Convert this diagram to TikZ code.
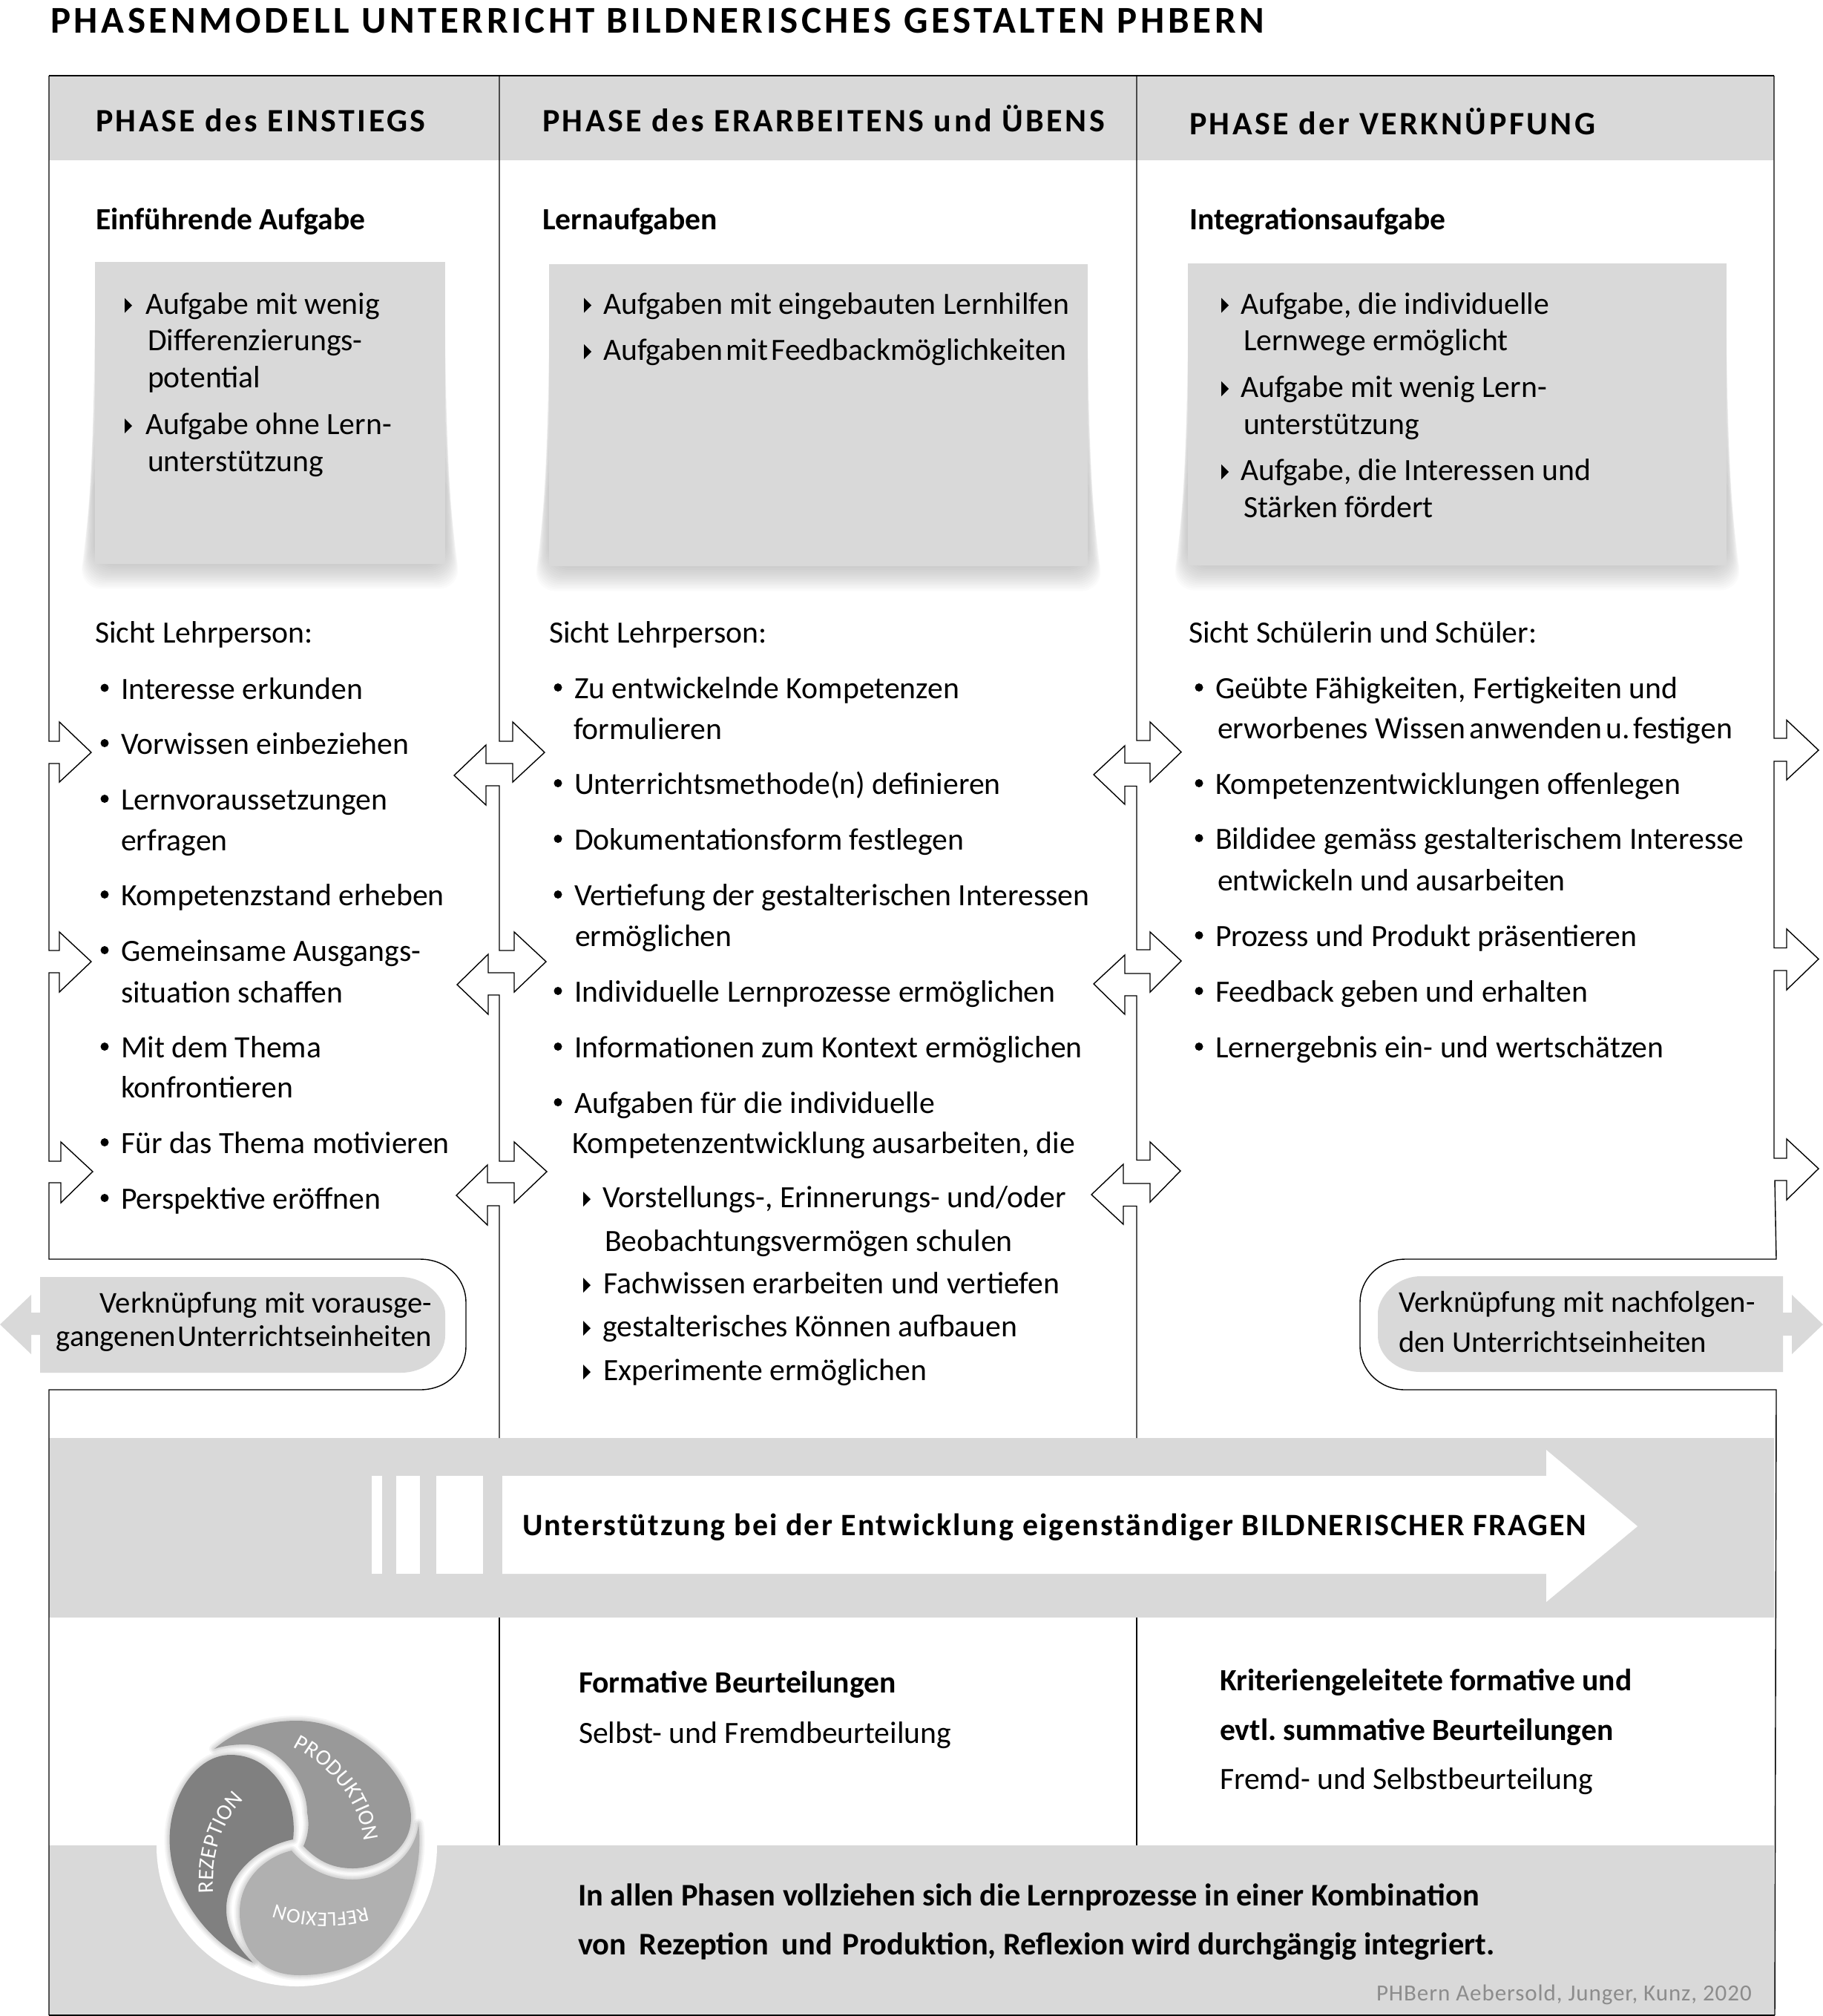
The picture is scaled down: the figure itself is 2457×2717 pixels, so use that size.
\documentclass[tikz,border=0pt]{standalone}
\usepackage{fontspec}
\setmainfont{Carlito}
\newfontfamily\spc{Carlito}[LetterSpace=7.9]
\newfontfamily\spct{Carlito}[LetterSpace=9.1]
\newfontfamily\spcb{Carlito}[LetterSpace=5]
\newfontfamily\spcc{Carlito}[LetterSpace=3]
\usetikzlibrary{decorations.text}
\definecolor{band}{HTML}{D9D9D9}
\definecolor{seg1}{HTML}{808080}
\definecolor{seg2}{HTML}{999999}
\definecolor{seg3}{HTML}{B0B0B0}
\definecolor{credit}{HTML}{8C8C8C}
\newcounter{tl}
\tikzset{
  every node/.style={inner sep=0pt,outer sep=0pt},
  txt/.style={anchor=base west,font=\fontsize{41.7}{50}\selectfont},
  lnk/.style={anchor=base west,font=\fontsize{40.7}{50}\selectfont},
  head/.style={anchor=base west,font=\spc\bfseries\fontsize{44}{50}\selectfont},
  bld/.style={anchor=base west,font=\bfseries\fontsize{41.6}{50}\selectfont},
  bldb/.style={anchor=base west,font=\bfseries\fontsize{42.4}{50}\selectfont},
  rule/.style={draw=black,line width=1.8pt,line join=miter},
  thinrule/.style={draw=black,line width=1.4pt,line join=miter},
}
\newcommand\T[4][txt]{\stepcounter{tl}\node[#1] (t\arabic{tl}) at (#2,#3+.9) {#4};}
\newcommand\B[3]{\fill (#1,#2-14.5) circle (5.5);\T{#1+22}{#2}{#3}}
\newcommand\Tri[2]{\fill (#1,#2-21) -- (#1+10,#2-11) -- (#1,#2-1) -- cycle;}
\newcommand\Card[4]{%
  \foreach \i in {1,...,14}{\fill[black,opacity=.016,rounded corners=30pt]
    ({#1-1.5*\i},{#4+2.4*\i}) -- ({#3+1.5*\i},{#4+2.4*\i}) -- (#3,{#2+40+17*\i}) -- (#1,{#2+40+17*\i}) -- cycle;}
  \fill[band] (#1,#2) rectangle (#3,#4);}
\newcommand\Glow[1]{\foreach \w in {14,10,7,4}{\draw[black,opacity=.04,line width=\w pt,line join=round] #1;}}
\begin{document}
\frenchspacing
\begin{tikzpicture}[x=1pt,y=-1pt]
\useasboundingbox (0,0) rectangle (2457,2717);
% grey areas
\fill[band] (66,102) rectangle (2391,216);
\fill[band] (66,1938) rectangle (2391,2180);
\fill[band] (66,2487) rectangle (2391,2716);
\Card{127.5}{353}{600}{760}
\Card{740}{356}{1466}{763}
\Card{1601}{355}{2327}{762}
% outer left
\draw[rule] (66,102) -- (2391,102);
\draw[rule] (66,2716) -- (2392,2716);
\draw[thinrule] (66,102) -- (66,999) -- (80,999) -- (80,973) -- (123,1014) -- (80,1054) -- (80,1029) -- (66,1029) -- (66,1281) -- (80,1281) -- (80,1256) -- (123,1296) -- (80,1337) -- (80,1311) -- (66,1311) -- (66,1565) -- (82,1565) -- (82,1539) -- (125,1579) -- (82,1621) -- (82,1594) -- (66,1594) -- (66,1697) -- (566,1697) .. controls (604,1697) and (628,1725) .. (628,1755) -- (628,1815) .. controls (628,1845) and (604,1873) .. (566,1873) -- (66,1873) -- (66,2716);
% column line 1
\draw[thinrule] (673,102) -- (673,999) -- (691,999) -- (691,973) -- (734,1014) -- (691,1054) -- (691,1029) -- (655,1029) -- (655,1004) -- (612,1045) -- (655,1085) -- (655,1059) -- (673,1059)
 -- (673,1281) -- (693,1281) -- (693,1256) -- (736,1296) -- (693,1337) -- (693,1311) -- (658,1311) -- (658,1286) -- (616,1327) -- (658,1367) -- (658,1341) -- (673,1341)
 -- (673,1565) -- (693,1565) -- (693,1539) -- (737,1579) -- (693,1621) -- (693,1594) -- (657,1594) -- (657,1570) -- (615,1611) -- (657,1651) -- (657,1625) -- (673,1625) -- (673,1938);
\draw[thinrule] (673,2180) -- (673,2487);
% column line 2
\draw[thinrule] (1532,102) -- (1532,998) -- (1550,998) -- (1550,973) -- (1592,1013.5) -- (1550,1054) -- (1550,1028.5) -- (1516,1028.5) -- (1516,1005) -- (1474,1044) -- (1516,1084) -- (1516,1059.5) -- (1532,1059.5)
 -- (1532,1280) -- (1550,1280) -- (1550,1256) -- (1592,1295) -- (1550,1337) -- (1550,1312) -- (1516,1312) -- (1516,1287) -- (1474,1326) -- (1516,1367) -- (1516,1342) -- (1532,1342)
 -- (1532,1563.5) -- (1550,1563.5) -- (1550,1539) -- (1591,1578) -- (1550,1620) -- (1550,1595) -- (1514,1595) -- (1514,1569) -- (1471,1610) -- (1514,1650) -- (1514,1625.5) -- (1532,1625.5) -- (1532,1938);
\draw[thinrule] (1532,2180) -- (1532,2487);
% right outer
\draw[thinrule] (2391,102) -- (2391,995) -- (2408,995) -- (2408,970.5) -- (2451,1011) -- (2408,1051) -- (2408,1026) -- (2391,1026) -- (2391,1277.5) -- (2408,1277.5) -- (2408,1252) -- (2451,1292.5) -- (2408,1334) -- (2408,1308) -- (2391,1308) -- (2391,1561) -- (2408,1561) -- (2408,1535) -- (2451,1575) -- (2408,1617) -- (2408,1591) -- (2392,1591) -- (2394,1697) -- (1894,1697) .. controls (1858,1697) and (1833,1725) .. (1833,1755) -- (1833,1815) .. controls (1833,1845) and (1858,1873) .. (1894,1873) -- (2394,1873) -- (2392,2716);
% link tabs
\fill[band] (54,1721) -- (540,1721) .. controls (575,1721) and (600,1750) .. (600,1770) -- (600,1800) .. controls (600,1825) and (575,1850) .. (540,1850) -- (54,1850) -- cycle;
\fill[band] (54,1769) -- (42,1769) -- (42,1745) -- (0,1785) -- (42,1825) -- (42,1799) -- (54,1799) -- cycle;
\fill[band] (2403,1720) -- (1915,1720) .. controls (1880,1720) and (1857,1750) .. (1857,1770) -- (1857,1800) .. controls (1857,1825) and (1880,1849) .. (1915,1849) -- (2403,1849) -- cycle;
\fill[band] (2403,1769) -- (2415,1769) -- (2415,1745) -- (2457,1785) -- (2415,1825) -- (2415,1800) -- (2403,1800) -- cycle;
% big arrow
\fill[white] (501,1989) rectangle (515,2120.5);
\fill[white] (534,1989) rectangle (566,2120.5);
\fill[white] (588,1989) rectangle (651,2120.5);
\fill[white] (677,1989) -- (2084,1989) -- (2084,1954) -- (2207,2057) -- (2084,2159) -- (2084,2121) -- (677,2121) -- cycle;
% title
\T[anchor=base west,font=\spct\bfseries\fontsize{51}{55}\selectfont]{68}{43.8}{PHASENMODELL UNTERRICHT BILDNERISCHES GESTALTEN PHBERN}
\T[head]{129}{176.8}{PHASE des EINSTIEGS}
\T[head]{731}{176.8}{PHASE des ERARBEITENS und ÜBENS}
\T[head]{1603}{180.3}{PHASE der VERKNÜPFUNG}
\T[bld]{129}{308.5}{Einführende Aufgabe}
\T[bld]{731}{308.5}{Lernaufgaben}
\T[bld]{1603}{308.5}{Integrationsaufgabe}
% card 1
\Tri{168}{422.5}\T{196}{422.5}{Aufgabe mit wenig}
\T{199}{472}{Differenzierungs-}
\T{199}{522}{potential}
\Tri{168}{585}\T{196}{585}{Aufgabe ohne Lern-}
\T{199}{635}{unterstützung}
% card 2
\Tri{787}{422.5}\T{813}{422.5}{Aufgaben mit eingebauten Lernhilfen}
\Tri{787}{485}\T{813}{485}{Aufgaben\hspace{-5pt} mit\hspace{-5pt} Feedbackmöglichkeiten}
% card 3
\Tri{1646}{422.5}\T{1672}{422.5}{Aufgabe, die individuelle}
\T{1676}{472}{Lernwege ermöglicht}
\Tri{1646}{535}\T{1672}{535}{Aufgabe mit wenig Lern-}
\T{1676}{585}{unterstützung}
\Tri{1646}{647}\T{1672}{647}{Aufgabe, die Interessen und}
\T{1676}{697}{Stärken fördert}
% list 1
\T{128}{866}{Sicht Lehrperson:}
\B{141}{941.5}{Interesse erkunden}
\B{141}{1016}{Vorwissen einbeziehen}
\B{141}{1091}{Lernvoraussetzungen}
\T{163}{1145.5}{erfragen}
\B{141}{1220}{Kompetenzstand erheben}
\B{141}{1295}{Gemeinsame Ausgangs-}
\T{163}{1351}{situation schaffen}
\B{141}{1425}{Mit dem Thema}
\T{163}{1479}{konfrontieren}
\B{141}{1554}{Für das Thema motivieren}
\B{141}{1629}{Perspektive eröffnen}
% list 2
\T{740}{866}{Sicht Lehrperson:}
\B{752}{941}{Zu entwickelnde Kompetenzen}
\T{773}{996}{formulieren}
\B{752}{1070}{Unterrichtsmethode(n) definieren}
\B{752}{1145}{Dokumentationsform festlegen}
\B{752}{1220}{Vertiefung der gestalterischen Interessen}
\T{775}{1275}{ermöglichen}
\B{752}{1350}{Individuelle Lernprozesse ermöglichen}
\B{752}{1425}{Informationen zum Kontext ermöglichen}
\B{752}{1500}{Aufgaben für die individuelle}
\T{771}{1554}{Kompetenzentwicklung ausarbeiten, die}
\Tri{786}{1627}\T{812}{1627}{Vorstellungs-, Erinnerungs- und/oder}
\T{815}{1686}{Beobachtungsvermögen schulen}
\Tri{786}{1743}\T{813}{1743}{Fachwissen erarbeiten und vertiefen}
\Tri{786}{1801}\T{812}{1801}{gestalterisches Können aufbauen}
\Tri{786}{1860}\T{813}{1860}{Experimente ermöglichen}
% list 3
\T{1602}{866}{Sicht Schülerin und Schüler:}
\B{1616}{941}{Geübte Fähigkeiten, Fertigkeiten und}
\T{1641}{995}{erworbenes Wissen\hspace{-4pt} anwenden\hspace{-4pt} u.\hspace{-5pt} festigen}
\B{1616}{1070}{Kompetenzentwicklungen offenlegen}
\B{1616}{1144}{Bildidee gemäss gestalterischem Interesse}
\T{1641}{1200}{entwickeln und ausarbeiten}
\B{1616}{1275}{Prozess und Produkt präsentieren}
\B{1616}{1350}{Feedback geben und erhalten}
\B{1616}{1425}{Lernergebnis ein- und wertschätzen}
% links
\T[lnk,anchor=base east]{582}{1769}{Verknüpfung mit vorausge-}
\T[lnk,anchor=base east]{582}{1814}{gangenen\hspace{-7pt} Unterrichtseinheiten}
\T[lnk]{1885}{1768}{Verknüpfung mit nachfolgen-}
\T[lnk]{1885}{1822}{den Unterrichtseinheiten}
% band text
\T[anchor=base west,font=\spcb\bfseries\fontsize{42}{46}\selectfont]{704}{2068.8}{Unterstützung bei der Entwicklung eigenständiger BILDNERISCHER FRAGEN}
% lower
\T[bld]{780}{2281}{Formative Beurteilungen}
\T{780}{2348.5}{Selbst- und Fremdbeurteilung}
\T[bld]{1644}{2278}{Kriteriengeleitete formative und}
\T[bld]{1644}{2344.5}{evtl. summative Beurteilungen}
\T{1644}{2411}{Fremd- und Selbstbeurteilung}
\T[bldb]{779}{2567.5}{In allen Phasen vollziehen sich die Lernprozesse in einer Kombination}
\T[bldb]{779}{2634}{von\hspace{8pt} Rezeption\hspace{8pt} und\hspace{4pt} Produktion, Reflexion wird durchgängig integriert.}
\T[anchor=base west,font=\spcc\fontsize{31}{34}\selectfont,text=credit]{1855}{2695.5}{PHBern Aebersold, Junger, Kunz, 2020}
% wheel
\fill[white] (400,2488) circle (189);
\def\segA{(395,2479) .. controls (402,2420) and (365,2365) .. (311,2365) .. controls (262,2365) and (228,2425) .. (228.6,2480) .. controls (229,2555) and (285,2622) .. (341,2645) .. controls (318,2622) and (305,2600) .. (305,2573) .. controls (305,2525) and (350,2488) .. cycle}
\def\segB{(289,2357) .. controls (320,2330) and (360,2319) .. (400,2319) .. controls (480,2319) and (554,2390) .. (554,2450) .. controls (554,2490) and (515,2518) .. (475,2518) .. controls (445,2518) and (425,2505) .. (409,2488) .. controls (416,2472) and (417,2458) .. (414,2443) .. controls (414,2400) and (375,2351) .. (330,2351) .. controls (315,2351) and (300,2353) .. cycle}
\def\segC{(564,2458) .. controls (572,2520) and (545,2600) .. (500,2635) .. controls (470,2655) and (435,2662) .. (404,2662) .. controls (345,2662) and (323,2620) .. (323,2577) .. controls (323,2535) and (355,2503) .. (393,2494) .. controls (415,2520) and (445,2533) .. (475,2533) .. controls (520,2533) and (560,2500) .. cycle}
\Glow{\segC}\Glow{\segB}\Glow{\segA}
\fill[seg3] \segC;
\fill[seg2] \segB;
\fill[seg1] \segA;
\path[decorate,decoration={text along path,text align=center,text={|\fontsize{30}{32}\selectfont\color{white}|REZEPTION}}] (288,2555) .. controls (283,2500) and (300,2450) .. (332,2423);
\path[decorate,decoration={text along path,text align=center,text={|\fontsize{30}{32}\selectfont\color{white}|PRODUKTION}}] (394,2354) .. controls (445,2380) and (485,2425) .. (491,2483);
\path[decorate,decoration={text along path,text align=center,text={|\fontsize{28}{30}\selectfont\color{white}|REFLEXION}}] (495,2570) .. controls (455,2582) and (410,2580) .. (370,2566);
\end{tikzpicture}
\end{document}
